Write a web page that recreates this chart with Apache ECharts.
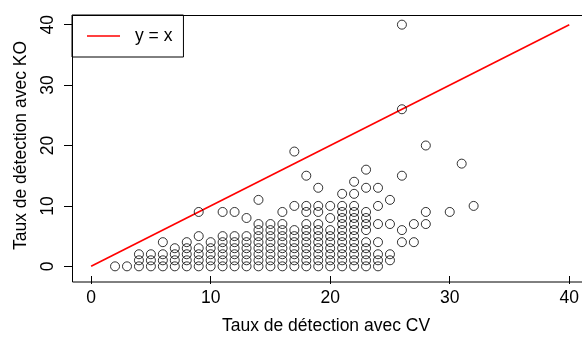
<!DOCTYPE html>
<html>
<head>
<meta charset="utf-8">
<script src="https://cdn.jsdelivr.net/npm/echarts@6/dist/echarts.min.js"></script>
<style>
html,body{margin:0;padding:0;background:#fff;}
#chart{width:582px;height:340px;}
</style>
</head>
<body>
<div id="chart"></div>
<script>
// Detection rate with CV (x) — one entry per observed column
const cvRate = [2, 3, 4, 5, 6, 7, 8, 9, 10, 11, 12, 13, 14, 15, 16, 17, 18, 19, 20, 21, 22, 23, 24, 25, 26, 27, 28, 30, 31, 32];
// Detection rate with KO (y) observed at each CV value above
const koRateByCv = [
  [0],
  [0],
  [0, 1, 2],
  [0, 1, 2],
  [0, 1, 2, 4],
  [0, 1, 2, 3],
  [0, 1, 2, 3, 4],
  [0, 1, 2, 3, 5, 9],
  [0, 1, 2, 3, 4],
  [0, 1, 2, 3, 4, 5, 9],
  [0, 1, 2, 3, 4, 5, 9],
  [0, 1, 2, 3, 4, 5, 8],
  [0, 1, 2, 3, 4, 5, 6, 7, 11],
  [0, 1, 2, 3, 4, 5, 6, 7],
  [0, 1, 2, 3, 4, 5, 6, 7, 9],
  [0, 1, 2, 3, 4, 5, 6, 10, 19],
  [0, 1, 2, 3, 4, 5, 6, 7, 9, 10, 15],
  [0, 1, 2, 3, 4, 5, 6, 7, 9, 10, 13],
  [0, 1, 2, 3, 4, 5, 6, 8, 10],
  [0, 1, 2, 3, 4, 5, 6, 7, 8, 9, 10, 12],
  [0, 1, 2, 3, 4, 5, 6, 7, 8, 9, 10, 12, 14],
  [0, 1, 2, 3, 4, 6, 7, 8, 9, 13, 16],
  [0, 1, 2, 4, 7, 10, 13],
  [1, 2, 7, 11],
  [4, 6, 15, 26, 40],
  [4, 7],
  [7, 9, 20],
  [9],
  [17],
  [10]
];
// Reference line y = x
const refLineX = [0, 40];
const refLineY = [0, 40];
// Tick labels
const xTicks = [0, 10, 20, 30, 40];
const yTicks = [0, 10, 20, 30, 40];

const scatterData = [];
cvRate.forEach((cv, i) => {
  koRateByCv[i].forEach(ko => scatterData.push([cv, ko]));
});
const lineData = refLineX.map((x, i) => [x, refLineY[i]]);

const FONT = 'Liberation Sans, Arial, Helvetica, sans-serif';
const FS = 17.5;

const chart = echarts.init(document.getElementById('chart'), null, {renderer: 'canvas'});
chart.setOption({
  animation: false,
  backgroundColor: '#ffffff',
  grid: {
    left: 72, top: 15, right: 0, height: 266.8,
    show: false, containLabel: false
  },
  graphic: [{
    type: 'rect', silent: true, z: 10,
    shape: {x: 72.5, y: 15.5, width: 530, height: 266.5},
    style: {fill: 'none', stroke: '#000', lineWidth: 1}
  }],
  legend: {
    data: [{name: 'y = x', icon: 'rect'}],
    left: 72, top: 15,
    orient: 'vertical',
    padding: [12, 11, 12, 15],
    borderColor: '#000', borderWidth: 1, borderRadius: 0,
    backgroundColor: '#fff',
    itemWidth: 33, itemHeight: 1.6,
    itemStyle: {color: '#ff0000'},
    textStyle: {fontFamily: FONT, fontSize: FS, color: '#000', padding: [0, 0, 0, 10]}
  },
  xAxis: {
    type: 'value', min: -1.6, max: 40.9,
    name: 'Taux de détection avec CV', nameLocation: 'middle', nameGap: 41,
    nameTextStyle: {fontFamily: FONT, fontSize: FS, color: '#000'},
    axisLine: {show: false, onZero: false},
    axisTick: {show: true, customValues: xTicks, length: 8, lineStyle: {color: '#000', width: 1}},
    axisLabel: {customValues: xTicks, margin: 13, fontFamily: FONT, fontSize: FS, color: '#000'},
    splitLine: {show: false}
  },
  yAxis: {
    type: 'value', min: -1.6, max: 41.6,
    name: 'Taux de détection avec KO', nameLocation: 'middle', nameGap: 42, nameRotate: 90,
    nameTextStyle: {fontFamily: FONT, fontSize: FS, color: '#000'},
    axisLine: {show: false, onZero: false},
    axisTick: {show: true, customValues: yTicks, length: 8, lineStyle: {color: '#000', width: 1}},
    axisLabel: {customValues: yTicks, rotate: 90, margin: 15, fontFamily: FONT, fontSize: FS, color: '#000'},
    splitLine: {show: false}
  },
  series: [
    {
      name: 'points', type: 'scatter', data: scatterData,
      symbol: 'circle', symbolSize: 9,
      itemStyle: {color: 'rgba(0,0,0,0)', borderColor: '#000', borderWidth: 1},
      z: 3
    },
    {
      name: 'y = x', type: 'line', data: lineData,
      symbol: 'none', lineStyle: {color: '#ff0000', width: 1.6},
      itemStyle: {color: '#ff0000'},
      z: 2
    }
  ]
});
</script>
</body>
</html>
